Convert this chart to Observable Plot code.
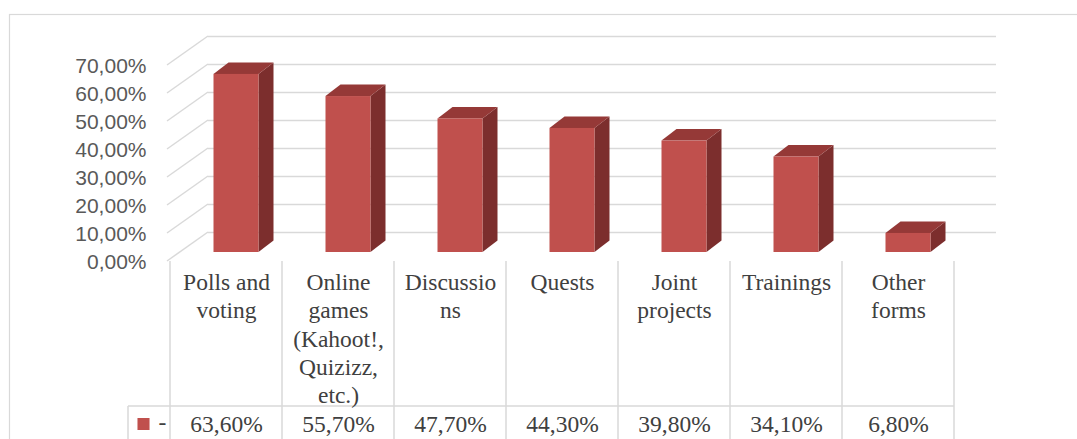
<!DOCTYPE html>
<html>
<head>
<meta charset="utf-8">
<script src="https://cdn.jsdelivr.net/npm/d3@7"></script>
<script src="https://cdn.jsdelivr.net/npm/@observablehq/plot@0.6"></script>
<style>
  html, body { margin: 0; padding: 0; background: #ffffff; }
  #chart svg { display: block; }
</style>
</head>
<body>
<div id="chart"></div>
<script>
// ---- Data ----
const categories = [
  "Polls and voting",
  "Online games (Kahoot!, Quizizz, etc.)",
  "Discussions",
  "Quests",
  "Joint projects",
  "Trainings",
  "Other forms"
];
const categoryLabels = [
  "Polls and\nvoting",
  "Online\ngames\n(Kahoot!,\nQuizizz,\netc.)",
  "Discussio\nns",
  "Quests",
  "Joint\nprojects",
  "Trainings",
  "Other\nforms"
];
const values = [0.636, 0.557, 0.477, 0.443, 0.398, 0.341, 0.068];
const yTicks = [0, 0.1, 0.2, 0.3, 0.4, 0.5, 0.6, 0.7];
const seriesName = "-";

// ---- Styles ----
const gridColor = "#D9D9D9";
const frontColor = "#C0504D";
const topColor = "#953937";
const sideColor = "#7C2E2D";
const wallDX = 40, wallDY = -29;      // depth of the back wall
const barDX = 10, barDY = -9;         // bar front plane offset
const barDepthDX = 15, barDepthDY = -11.5;
const barWidth = 45;

const fmt = d => (d * 100).toFixed(2).replace(".", ",") + "%";
const data = categories.map((c, i) => ({category: c, label: categoryLabels[i], value: values[i]}));

// side wall diagonal lines
function sideWall(index, scales, vals, dims) {
  const y = scales.y;
  const x0 = dims.marginLeft;
  const g = d3.create("svg:g").attr("stroke", gridColor).attr("stroke-width", 1.5);
  for (const t of yTicks) {
    g.append("line")
      .attr("x1", x0 - 1).attr("y1", y(t))
      .attr("x2", x0 + wallDX).attr("y2", y(t) + wallDY);
  }
  return g.node();
}

// 3D bars
function bars3d(index, scales) {
  const x = scales.x, y = scales.y, bw = x.bandwidth();
  const g = d3.create("svg:g");
  for (const i of index) {
    const d = data[i];
    const cx = x(d.category) + bw / 2 + barDX;
    const xl = cx - barWidth / 2, xr = cx + barWidth / 2;
    const yb = y(0) + barDY, yt = y(d.value) + barDY;
    g.append("path").attr("fill", sideColor)
      .attr("d", `M${xr},${yt}L${xr + barDepthDX},${yt + barDepthDY}L${xr + barDepthDX},${yb + barDepthDY}L${xr},${yb}Z`);
    g.append("path").attr("fill", topColor)
      .attr("d", `M${xl},${yt}L${xl + barDepthDX},${yt + barDepthDY}L${xr + barDepthDX},${yt + barDepthDY}L${xr},${yt}Z`);
    g.append("rect").attr("fill", frontColor)
      .attr("x", xl).attr("y", yt).attr("width", barWidth).attr("height", yb - yt);
  }
  return g.node();
}

// data table grid
function tableGrid(index, scales, vals, dims) {
  const x = scales.x;
  const bw = x.bandwidth();
  const edges = categories.map(c => x(c)).concat([x(categories[categories.length - 1]) + bw]);
  const top = dims.height - dims.marginBottom;
  const bottom = dims.height + 5;
  const rowY = top + 145;
  const legendLeft = dims.marginLeft - 40;
  const g = d3.create("svg:g").attr("stroke", gridColor).attr("stroke-width", 1.5).attr("fill", "none");
  for (const e of edges) {
    g.append("line").attr("x1", e).attr("x2", e).attr("y1", top).attr("y2", bottom);
  }
  g.append("line").attr("x1", legendLeft).attr("x2", edges[edges.length - 1]).attr("y1", rowY).attr("y2", rowY);
  g.append("line").attr("x1", legendLeft).attr("x2", legendLeft).attr("y1", rowY).attr("y2", bottom);
  return g.node();
}

const chart = Plot.plot({
  width: 1077,
  height: 439,
  marginTop: 65,
  marginBottom: 178,
  marginLeft: 168,
  marginRight: 121,
  style: {background: "#ffffff", fontFamily: "Liberation Serif"},
  x: {type: "band", domain: categories, padding: 0, axis: null},
  y: {domain: [0, 0.7], axis: null},
  marks: [
    Plot.frame({stroke: gridColor, strokeWidth: 1.2, insetLeft: -159, insetTop: -51, insetRight: -200, insetBottom: -300}),
    Plot.ruleY(yTicks, {stroke: gridColor, strokeWidth: 1.5, dx: wallDX, dy: wallDY}),
    sideWall,
    Plot.barY(data, {x: "category", y: "value", render: bars3d}),
    Plot.text(yTicks, {
      y: d => d, text: fmt, frameAnchor: "left", textAnchor: "end", dx: -22, dy: 1,
      fontFamily: "Liberation Sans", fontSize: 21, fill: "#595959"
    }),
    tableGrid,
    Plot.text(data, {
      x: "category", text: "label", frameAnchor: "bottom", lineAnchor: "top", dy: 8,
      fontFamily: "Liberation Serif", fontSize: 23.5, lineHeight: 1.21, fill: "#404040"
    }),
    Plot.text(data, {
      x: "category", text: d => fmt(d.value), frameAnchor: "bottom", lineAnchor: "middle", dy: 162.5,
      fontFamily: "Liberation Serif", fontSize: 23.5, fill: "#404040"
    }),
    Plot.dot([seriesName], {
      frameAnchor: "bottom-left", dx: -25, dy: 162.5, symbol: "square", r: 6.8, fill: frontColor, stroke: null
    }),
    Plot.text([seriesName], {
      text: d => d, frameAnchor: "bottom-left", lineAnchor: "middle", dx: -10, dy: 161,
      fontFamily: "Liberation Serif", fontSize: 23.5, fill: "#404040"
    })
  ]
});
document.getElementById("chart").appendChild(chart);
</script>
</body>
</html>
